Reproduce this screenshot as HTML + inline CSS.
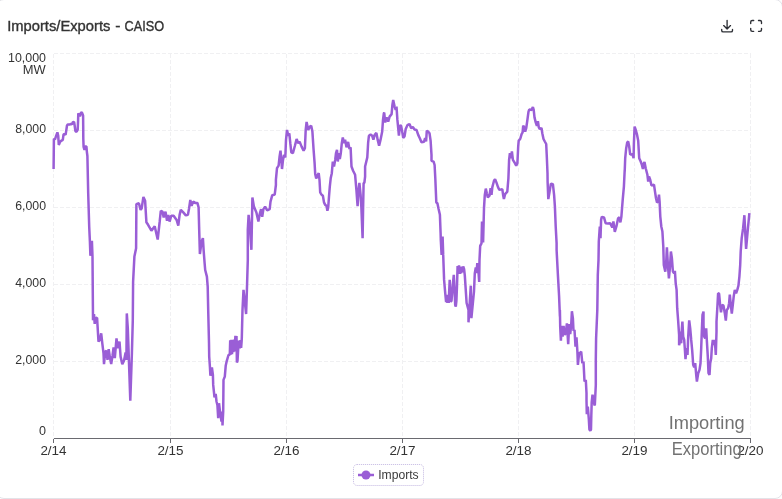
<!DOCTYPE html>
<html lang="en">
<head>
<meta charset="utf-8">
<title>Imports/Exports - CAISO</title>
<style>
html,body{margin:0;padding:0;}
body{width:782px;height:499px;overflow:hidden;background:#fdfdfd;font-family:"Liberation Sans",sans-serif;position:relative;}
.card{position:absolute;left:-4px;top:-1px;width:785px;height:498px;background:#fff;border:1px solid #e3e3e8;border-radius:8px;}
svg{position:absolute;left:0;top:0;}
svg text{font-family:"Liberation Sans",sans-serif;}
.ttl{font-size:14px;fill:#333;stroke:#333;stroke-width:0.35px;}
.ax text{font-size:12px;fill:#333;}
.grid line{stroke:#f0f0f2;stroke-width:1;stroke-dasharray:4 2;}
.note text{font-size:17.5px;fill:#727272;}
</style>
</head>
<body>
<div class="card"></div>

<svg width="782" height="499" viewBox="0 0 782 499">
<text class="ttl" y="31"><tspan x="7.2" textLength="103.2" lengthAdjust="spacingAndGlyphs">Imports/Exports</tspan> <tspan x="115.3" textLength="5.2" lengthAdjust="spacingAndGlyphs">-</tspan> <tspan x="124.6" textLength="39.6" lengthAdjust="spacingAndGlyphs">CAISO</tspan></text>
<g class="grid" shape-rendering="crispEdges"><line x1="53.5" y1="53.5" x2="53.5" y2="438.5"/><line x1="170.5" y1="53.5" x2="170.5" y2="438.5"/><line x1="286.5" y1="53.5" x2="286.5" y2="438.5"/><line x1="402.5" y1="53.5" x2="402.5" y2="438.5"/><line x1="518.5" y1="53.5" x2="518.5" y2="438.5"/><line x1="634.5" y1="53.5" x2="634.5" y2="438.5"/><line x1="750.5" y1="53.5" x2="750.5" y2="438.5"/><line x1="53.5" y1="53.5" x2="750.5" y2="53.5"/><line x1="53.5" y1="130.5" x2="750.5" y2="130.5"/><line x1="53.5" y1="207.5" x2="750.5" y2="207.5"/><line x1="53.5" y1="284.5" x2="750.5" y2="284.5"/><line x1="53.5" y1="361.5" x2="750.5" y2="361.5"/></g>
<g stroke="#6a6a70" stroke-width="1" shape-rendering="crispEdges"><line x1="53.5" y1="438.5" x2="750.5" y2="438.5"/><line x1="53.5" y1="438.5" x2="53.5" y2="443.0"/><line x1="170.5" y1="438.5" x2="170.5" y2="443.0"/><line x1="286.5" y1="438.5" x2="286.5" y2="443.0"/><line x1="402.5" y1="438.5" x2="402.5" y2="443.0"/><line x1="518.5" y1="438.5" x2="518.5" y2="443.0"/><line x1="634.5" y1="438.5" x2="634.5" y2="443.0"/><line x1="750.5" y1="438.5" x2="750.5" y2="443.0"/></g>
<g class="ax"><text x="46" y="61.7" text-anchor="end" textLength="38" lengthAdjust="spacingAndGlyphs">10,000</text><text x="46" y="132.8" text-anchor="end" textLength="30.8" lengthAdjust="spacingAndGlyphs">8,000</text><text x="46" y="209.8" text-anchor="end" textLength="30.8" lengthAdjust="spacingAndGlyphs">6,000</text><text x="46" y="286.8" text-anchor="end" textLength="30.8" lengthAdjust="spacingAndGlyphs">4,000</text><text x="46" y="363.8" text-anchor="end" textLength="30.8" lengthAdjust="spacingAndGlyphs">2,000</text><text x="46" y="435.2" text-anchor="end" textLength="7" lengthAdjust="spacingAndGlyphs">0</text><text x="45.8" y="73.9" text-anchor="end" textLength="23" lengthAdjust="spacingAndGlyphs">MW</text><text x="53.5" y="455" text-anchor="middle" textLength="26.2" lengthAdjust="spacingAndGlyphs">2/14</text><text x="170.5" y="455" text-anchor="middle" textLength="26.2" lengthAdjust="spacingAndGlyphs">2/15</text><text x="286.5" y="455" text-anchor="middle" textLength="26.2" lengthAdjust="spacingAndGlyphs">2/16</text><text x="402.5" y="455" text-anchor="middle" textLength="26.2" lengthAdjust="spacingAndGlyphs">2/17</text><text x="518.5" y="455" text-anchor="middle" textLength="26.2" lengthAdjust="spacingAndGlyphs">2/18</text><text x="634.5" y="455" text-anchor="middle" textLength="26.2" lengthAdjust="spacingAndGlyphs">2/19</text><text x="750.5" y="455" text-anchor="middle" textLength="26.2" lengthAdjust="spacingAndGlyphs">2/20</text></g>
<g class="note"><text x="706.7" y="429.3" text-anchor="middle" textLength="76" lengthAdjust="spacingAndGlyphs">Importing</text><text x="706.7" y="454.8" text-anchor="middle" textLength="70" lengthAdjust="spacingAndGlyphs">Exporting</text></g>
<path d="M53.6,169.1 L53.9,138.8 L55,139.3 L56.2,135.7 L57.4,132.4 L58.2,135.7 L58.8,144.9 L60.1,141.8 L61.1,140.8 L62.8,139.8 L63.5,134.7 L64.4,133.8 L65.6,134.7 L66.4,129.6 L67,125.5 L67.9,124.4 L69.5,124.6 L71,123.9 L72,124.4 L72.8,122.2 L74.1,121.9 L74.8,126.5 L75.4,131.1 L76.6,131.8 L77.7,129.6 L78.1,120.3 L78.3,113.4 L79.2,114.7 L79.9,116.3 L80.9,113 L81.8,112.2 L82.6,114.2 L83.1,115.7 L83.2,125.5 L83.3,138.8 L83.6,146.9 L84.5,150 L85.1,146.4 L86.4,146.4 L86.9,152.1 L87.4,156 L88.2,193.2 L89.2,226.5 L89.9,241.5 L90.4,255.8 L91.9,240.8 L92.5,256.6 L92.9,306.5 L93,320.2 L94,314.1 L94.7,323.8 L95.7,318.2 L97.1,317.7 L97.4,323.3 L98.5,341.6 L99.8,339.9 L101.2,333.3 L102.3,343.3 L103.5,353.2 L104,364.1 L105.2,351.6 L106.5,350.8 L107.5,359.9 L108.7,349.1 L109.8,356.6 L111.2,364.1 L112.5,355.7 L113.6,347.4 L114.8,358.2 L116.5,338.3 L117.8,348.3 L119.5,341.6 L120.6,356.6 L122.3,364.1 L124,360.7 L125.6,352.4 L126.4,359.9 L126.8,313.4 L127.8,328.3 L130.3,400.6 L131.9,353.2 L132.8,320 L133.1,281.6 L134.4,256.6 L136.1,248.3 L136.4,204.1 L138.9,203.2 L140.6,209.9 L141.7,208.2 L143.4,196.9 L145.1,200.7 L146.4,222.3 L148.1,224.8 L151.4,230.7 L154.7,226.2 L157.7,239.5 L159.7,221.5 L160.8,210.8 L162.5,211.6 L163.7,217.4 L165.5,211.6 L167,220.7 L168.3,214.9 L169.6,221.6 L171.3,215.7 L173.6,215.7 L176.6,219.9 L178.3,225.7 L179.6,214.9 L180.8,209.9 L183.3,212.4 L185.8,215.4 L187.9,214.9 L189.1,208.3 L190.3,199.9 L191.6,205.8 L193.2,201.6 L195.2,202.9 L197.4,202.9 L198.6,207.4 L199.2,229.9 L199.9,254 L201.6,241.5 L202.9,238.2 L203.6,249.8 L204.6,263 L205.2,270 L206.9,276.6 L207.7,286.6 L208.2,309.9 L209,343 L209.2,356.6 L209.9,366.6 L210.4,375.7 L211.9,367.4 L212.9,374.9 L213.2,384.9 L214.5,397.4 L215.7,394 L216.5,401.5 L217.4,404.8 L218.2,418.1 L219,403.2 L220.2,413.1 L221.5,421.5 L222.3,411.5 L222.5,425.5 L223.2,411.5 L223.5,379.9 L224.8,376.6 L225.7,365.8 L226.8,360.8 L228.5,355 L228.5,355 L229.8,354.5 L230.2,340.2 L230.8,354.6 L231.4,339.9 L232,354.2 L232.6,339.7 L233.3,352.1 L234.1,339.5 L234.7,351.4 L235.4,335.8 L236,351.4 L236.5,336.1 L236.9,362.4 L237.5,361 L238.2,348.9 L239,340.7 L239.8,348.4 L240.5,340.2 L241.1,347.9 L241.6,341.7 L241.8,338.1 L242.5,309.9 L243.5,289.9 L244.8,301.6 L246.1,314 L246.8,293.2 L247.3,276.6 L247.8,260 L247.8,229.9 L248.6,214.9 L249.8,226.5 L251.4,249.8 L252.4,197.5 L253.9,206.6 L256.4,212.4 L258.4,221.6 L259.7,214.1 L261.1,209.1 L262.2,216.9 L263.4,209.1 L265.1,206.6 L267.2,210.3 L269.7,209.1 L270.5,201.6 L272.2,195.3 L274.7,194.6 L275.9,185 L275.9,179.8 L277,168.2 L278.6,165.7 L279.6,156.5 L280.5,150.7 L281.3,159.9 L282,169 L283,159.9 L284,154.9 L285.3,157.4 L286,139.9 L287,129.9 L288.3,135.8 L289.3,133.3 L290.3,143.2 L291.3,152.4 L292.9,153.2 L294.9,145.7 L296.6,139.1 L298.3,143.2 L299.6,141.6 L301.6,146.6 L303.6,150.7 L304.9,148.2 L305.7,129.9 L306.6,122 L308.2,129.9 L309.9,126.6 L311.2,125.8 L312.4,131.6 L313.6,149.9 L314.6,163.2 L315.2,174 L316.2,178.5 L317.4,175.7 L318.7,173.2 L319.5,179.8 L320.2,192.4 L321.5,194.6 L322.9,195.8 L324,202.4 L325.2,204.9 L326.5,205.7 L327.4,210.7 L328.2,207.4 L329,196.6 L329.8,186.6 L330.7,178.3 L330.7,178.2 L331.8,173.2 L332.8,161.5 L334,166.5 L335.2,159.9 L336,153.2 L337,149.9 L337.8,161.5 L338.8,153.2 L339.8,159 L340.8,153.2 L341.8,143.2 L342.8,137.4 L344,143.2 L345.1,139.6 L346.5,147.4 L348.1,141.9 L349.5,149.1 L350.6,147.4 L351.5,166.5 L353.1,170.7 L355.1,174.8 L356.4,189.8 L356.4,189.9 L357.6,206.2 L358.4,191.6 L359.4,183 L360.6,194.9 L361.4,208.2 L362.6,238.2 L363.1,208.2 L363.6,183.3 L364.4,182.5 L365.1,176.6 L365.1,166.5 L367.3,157.4 L368.1,143.2 L368.9,135.8 L370.6,134.6 L372.2,135.8 L373.4,139.6 L374.7,134.9 L376.4,132.9 L377.7,139.9 L379.1,145.7 L380.5,139.9 L382.2,131.6 L383,120 L383.9,113 L383.9,113.2 L384.2,112.7 L385.2,122.4 L386.6,117.4 L388.2,121.6 L389.6,116.6 L391.6,114.1 L392.4,104.9 L393.2,99.9 L394.6,106.6 L395.7,109.9 L396.5,106.6 L397.4,119.9 L398.2,128.2 L398.9,135.7 L399.9,126.5 L400.9,124.9 L401.9,129.9 L403.2,137.9 L404.5,136.5 L405.7,129 L407.4,125.2 L409.5,124.1 L411.2,128.2 L412.8,126.9 L414.5,129.5 L416.5,129.9 L418.2,134.9 L419.8,138.2 L421.5,142.3 L424,141.8 L425.1,138.2 L426.1,141.5 L426.8,130.7 L428.1,131.5 L429.5,133.2 L430.6,140.7 L431.5,154.8 L431.5,160.8 L433.6,161.6 L434.6,165 L435.3,178.3 L436.3,202.4 L437.4,203.2 L438.6,209 L439.9,214.8 L440.6,233 L440.8,240 L441.6,254.9 L442.6,236.6 L443.2,254.9 L444.1,279.9 L445.3,293.8 L446.1,302.1 L446.8,294.8 L447.4,302.8 L448.1,294.8 L448.7,303 L449.2,290.7 L449.7,279.9 L450.3,293.8 L450.8,301.9 L451.5,300.9 L452.1,293.8 L452.7,285.6 L453.8,274.8 L454.6,290.7 L455.2,305 L455.8,306.5 L456.4,300.9 L457,285.6 L457.6,266.1 L458.3,273.3 L459,265.3 L459.7,273.8 L460.4,267.2 L461,273.3 L461.7,266.6 L462.5,272.3 L463.2,266.3 L464.1,269.2 L464.8,275.3 L465.8,290.7 L466.6,303 L468.5,309.8 L468.5,322.3 L470.8,285.7 L471.4,318.2 L474,291.5 L474.8,273.2 L475.8,267.4 L476.5,273.2 L477.3,263.2 L478.2,268.2 L479.2,281.9 L479.5,259.9 L480.2,245.8 L481.5,243.3 L482,221.5 L483.1,242.5 L484,208.2 L484.8,194.9 L485.8,188.6 L486.8,193.2 L487.8,197.4 L489.5,195.7 L490.6,188.2 L491.5,194.9 L492.3,187.4 L494,180.8 L495.1,179.1 L496.4,182.4 L498.1,187.4 L499.4,189.9 L502.3,189.1 L503.1,194.9 L503.9,199 L505.1,194.1 L507.3,191.6 L508.4,178.3 L509.1,160 L509.9,153.2 L510.9,158.2 L511.9,151.5 L512.9,159.8 L514.9,163.1 L516.2,165.6 L517.4,163.1 L518.2,146.5 L518.7,140.7 L520.2,139 L521.6,134.1 L522.6,132.4 L523.2,125.7 L524.2,127.4 L525.2,131.6 L526.2,128.2 L527.4,119.9 L528.5,111.6 L529.2,109.6 L531.5,109.9 L532.9,107 L533.7,109.9 L534.5,117.4 L535.7,122.4 L536.9,125.7 L537.9,121.3 L538.8,127.4 L539.8,129.1 L541.5,127.9 L542.3,133.2 L543.5,139 L544.8,141.5 L546.2,144 L546.8,156.5 L547.5,173 L547.6,181.6 L548.3,199.1 L549.6,191.6 L550.9,183.6 L552.9,184.1 L554.1,194.9 L554.9,206.6 L555.7,226.5 L556.6,243.1 L556.6,250 L557.9,274.9 L559.1,296.5 L559.9,316.5 L559.9,310 L560.2,326.6 L560.9,340.8 L561.6,325.8 L562.6,336.6 L563.6,325.8 L564.6,334.9 L565.7,333.3 L566.9,323.3 L568.2,344.1 L569.2,324.1 L570.2,334.1 L571.2,325 L571.9,311.2 L572.9,318.3 L573.5,330.8 L574.5,329.9 L575.5,346.6 L576.5,337.4 L577.4,351.6 L577.9,364.9 L579,354.1 L581.2,351.6 L582.3,363.2 L583.5,361.5 L584.5,381.5 L585.8,379.8 L586.5,393 L586.5,400.3 L586.8,414.2 L587.8,406.5 L588.8,418.8 L589.4,429.5 L590.3,430.7 L591,429.5 L591.3,415.7 L591.7,402.4 L592.5,394.7 L593.4,398.3 L594,403.4 L594.8,405.5 L595.3,395.2 L595.8,385 L595.8,359.9 L596.1,338.3 L597.3,310 L597.8,274.9 L598.5,260 L598.8,241.5 L599.8,226.5 L600.5,238.2 L601.1,219.9 L601.8,216.9 L604,217.4 L605.6,223.2 L608.1,223.5 L610.1,223.2 L612.3,227.4 L613.4,221.5 L614.8,231.8 L616.4,226.5 L618.1,218.2 L619.4,217.4 L620.4,222.4 L621.4,216.5 L622.7,199.9 L623.9,186.6 L624.7,170 L624.7,171.5 L625.2,158.2 L626.2,148.2 L627.2,142.4 L628.2,141.6 L629.2,146.6 L630.2,154.6 L632.4,154.1 L633.6,158.2 L633.9,143.2 L634.6,126.6 L635.5,129.1 L636.9,134.1 L638.2,140.8 L639.2,158.2 L640.7,161.5 L641.9,164.9 L642.9,169 L643.9,163.2 L644.5,161.9 L645.7,168.2 L647.4,174.8 L648.2,181.5 L649,176.5 L650.2,179.8 L651.5,185.6 L654,184.8 L655,191.6 L656,198.3 L657,202.4 L658,201.6 L659,194.6 L659.6,201.6 L660.3,216.6 L661.3,226.5 L662.4,231.5 L663.3,246.5 L663.8,265 L665.3,271.6 L666.3,260 L666.9,247.3 L667.9,265 L668.9,278.3 L669.9,268.3 L670.9,251.5 L671.9,258.3 L672.9,271.6 L674.1,273.3 L674.9,270.8 L675.7,283.3 L676.6,289.9 L677.2,308.2 L678.2,321.5 L679.1,334.8 L679.1,331.6 L679.1,345.3 L679.6,343.3 L680.2,331.6 L681.2,343.3 L681.9,328.3 L682.4,321.6 L683.2,336.6 L684.2,339.9 L684.9,349.9 L685.5,359.1 L686.5,348.2 L687.5,354.9 L688.2,336.6 L689.2,320.3 L690.2,328.3 L691.2,339.9 L692.2,350.7 L693.2,364.9 L694.2,367.4 L695.2,363.2 L696.2,374.8 L696.9,381.5 L698.2,373.2 L699.5,369.9 L700.5,363.2 L701.2,348.2 L701.8,331.6 L702.5,314.8 L703.5,311.5 L703.5,325 L704.2,336.6 L705.2,338.3 L706.2,328.3 L706.8,339.9 L707.8,356.6 L708.5,373.2 L709.5,374.8 L710.2,363.2 L711.2,358.2 L711.8,348.2 L712.8,339.9 L713.8,344.9 L714.8,339.9 L715.8,354.9 L716.5,331.6 L716.5,321.5 L717.5,304.9 L718.1,293.2 L719.1,293.6 L720.1,304.9 L721,312.4 L722.1,304.9 L723.5,305.7 L724.8,313.2 L725.8,320.7 L726.8,309.9 L728.1,308.2 L729.1,303.2 L729.8,294.6 L730.8,304.9 L731.8,313.5 L732.8,304.9 L733.8,295.7 L734.8,289.9 L736.1,293.2 L737.3,289.9 L738.4,285.8 L739.4,276.6 L740.2,265 L740.7,251.5 L741.7,238.2 L743.1,228.2 L744.4,215.2 L745.1,229.9 L746.1,249 L747.2,236.5 L748.1,226.5 L749.4,213.2" fill="none" stroke="#9a5ed6" stroke-width="2.5" stroke-linejoin="bevel" stroke-linecap="butt"/>
<g fill="none" stroke="#2e3036" stroke-width="1.35" stroke-linecap="round" stroke-linejoin="round">
<path d="M727.1 20.3v8.7M723.7 25.6l3.400 3.400l3.400 -3.400M721.7 29.400v1a1.5 1.5 0 0 0 1.5 1.5h7.8a1.5 1.5 0 0 0 1.5 -1.500v-1"/>
<path d="M750.700 23.500v-1.500a1.5 1.5 0 0 1 1.5 -1.5h1.500M758.500 20.500h1.500a1.5 1.5 0 0 1 1.5 1.5v1.500M761.500 28.300v1.500a1.5 1.5 0 0 1 -1.5 1.5h-1.500M753.700 31.300h-1.500a1.5 1.5 0 0 1 -1.500 -1.5v-1.500"/>
</g>
<g>
<rect x="353.5" y="464.500" width="70" height="21" rx="3.500" fill="#fff" stroke="#cdc3e6" stroke-width="1" stroke-dasharray="1.2 0.8"/>
<line x1="358" y1="475" x2="374" y2="475" stroke="#9a5ed6" stroke-width="2.500"/>
<circle cx="366" cy="475" r="4.500" fill="#9a5ed6"/>
<text x="378.200" y="478.700" font-size="12" fill="#3a3a3a" textLength="40.5" lengthAdjust="spacingAndGlyphs">Imports</text>
</g>
</svg>
</body>
</html>
